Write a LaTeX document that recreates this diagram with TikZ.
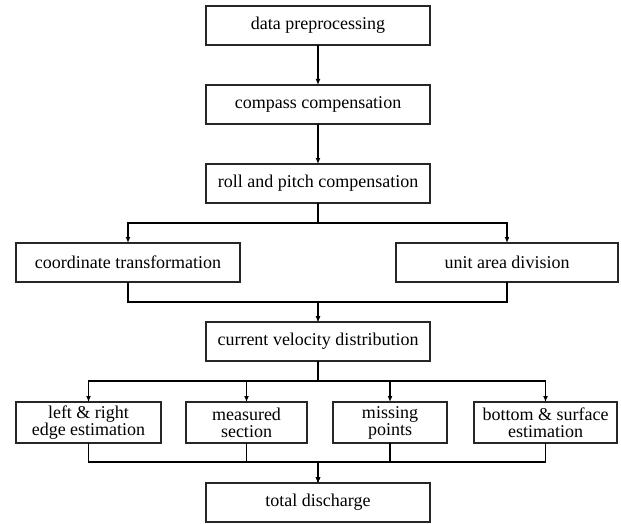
\documentclass[tikz,border=0pt]{standalone}
\usepackage{fontspec}
\setmainfont{Liberation Serif}
\usepackage{tikz}
\usetikzlibrary{positioning,arrows.meta}

\begin{document}
\begin{tikzpicture}[node distance=40pt and 25pt,
 box/.style={draw=black!85,line width=1.1pt,align=center,
 font=\fontsize{18}{17}\selectfont,inner sep=0pt,outer sep=0pt,
 minimum width=224pt,minimum height=39pt},
 small/.style={box,minimum height=41pt},
 arr/.style={-{Latex[length=6pt,width=5pt]},line width=1.5pt}]
\useasboundingbox (0,0) rectangle (621pt,-524pt);
\node[box] (prep) at (318pt,-25.5pt) {data preprocessing};
\node[box,below=of prep] (compass) {compass compensation};
\node[box,below=of compass] (roll) {roll and pitch compensation};
\node[box,below=of roll,xshift=-190pt] (coord) {coordinate transformation};
\node[box,below=of roll,xshift=189pt,minimum width=222pt] (unit) {unit area division};
\node[box,below=119pt of roll] (velocity) {current velocity distribution};
\node[small,below=41pt of velocity,xshift=-71.5pt,minimum width=121pt] (measured) {measured\\section};
\node[small,left=of measured,minimum width=145pt] (edge) {left \& right\\edge estimation};
\node[small,right=26pt of measured,minimum width=114pt] (missing) {missing\\points};
\node[small,right=27pt of missing,minimum width=143pt] (bottom) {bottom \& surface\\estimation};
\node[box,below=40pt of measured.south -| velocity] (total) {total discharge};

\draw[arr] (prep) -- (compass);
\draw[arr] (compass) -- (roll);
\draw[arr] (roll.south) -- ++(0,-20pt) -| (coord.north);
\draw[arr] (roll.south) -- ++(0,-20pt) -| (unit.north);
\draw[arr] (coord.south) -- ++(0,-20pt) -| (velocity.north);
\draw[arr] (unit.south) -- ++(0,-20pt) -| (velocity.north);
\foreach \part in {edge,measured,missing,bottom}{
 \draw[arr] (velocity.south) -- ++(0,-20pt) -| (\part.north);
 \draw[arr] (\part.south) -- ++(0,-19pt) -| (total.north);
}
\end{tikzpicture}
\end{document}
